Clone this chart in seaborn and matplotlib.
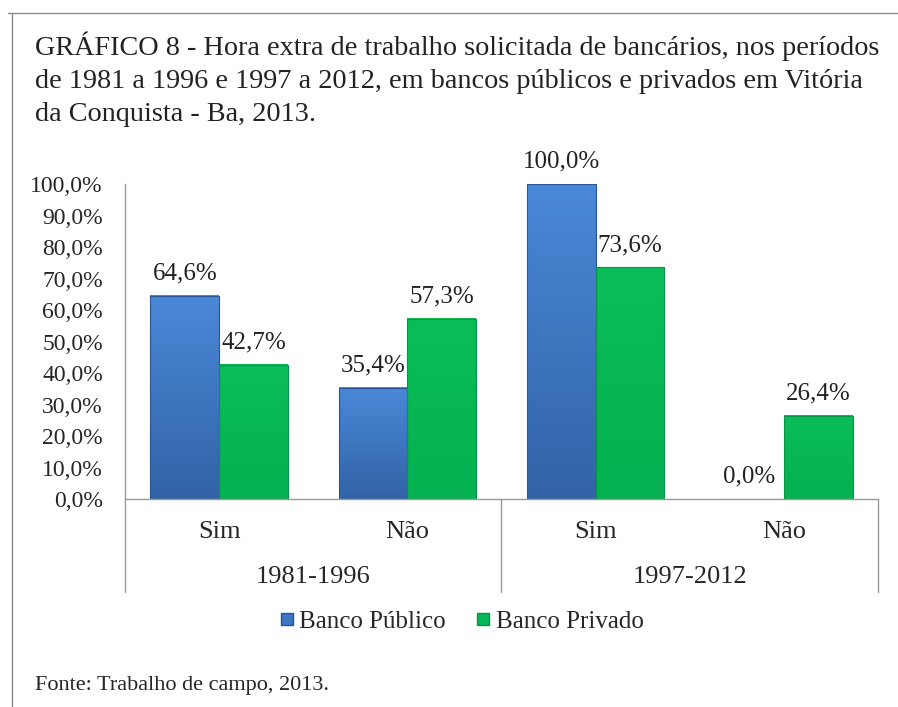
import numpy as np
import pandas as pd
import matplotlib.pyplot as plt
import seaborn as sns
from matplotlib.lines import Line2D
from matplotlib.colors import LinearSegmentedColormap

# data
periods = ['1981-1996', '1981-1996', '1997-2012', '1997-2012']
answers = ['Sim', 'Não', 'Sim', 'Não']
banco_publico = [64.6, 35.4, 100.0, 0.0]
banco_privado = [42.7, 57.3, 73.6, 26.4]
series_names = ['Banco Público', 'Banco Privado']
y_ticks = [0, 10, 20, 30, 40, 50, 60, 70, 80, 90, 100]

colors = ['#3d76c4', '#07b754']
edge_colors = ['#2a5592', '#05944a']
# top / bottom shades of each series (glossy Excel look)
shades = [('#4a88d8', '#3263a6'), ('#0bbd58', '#05b150')]

cats = [f'{p}|{a}' for p, a in zip(periods, answers)]
df = pd.DataFrame({
    'cat': cats * 2,
    'value': banco_publico + banco_privado,
    'serie': [series_names[0]] * 4 + [series_names[1]] * 4,
})

sns.set_style('white')
plt.rcParams['font.family'] = ['Liberation Serif', 'DejaVu Serif']

fig = plt.figure(figsize=(8.98, 7.07), dpi=100)
ax = fig.add_axes([0.1392, 0.2942, 0.8385, 0.4455])

sns.barplot(data=df, x='cat', y='value', hue='serie', order=cats,
            hue_order=series_names, palette=colors, width=0.73, gap=0,
            saturation=1, legend=False, ax=ax)

grad = np.linspace(1, 0, 100).reshape(-1, 1)
for cont, ec, (top, bottom) in zip(ax.containers, edge_colors, shades):
    cmap = LinearSegmentedColormap.from_list('shade', [bottom, top])
    for bar in cont:
        bar.set_edgecolor(ec)
        bar.set_linewidth(0.8)
        bar.set_zorder(3)
        if bar.get_height() > 0:
            x0, w, h = bar.get_x(), bar.get_width(), bar.get_height()
            ax.imshow(grad, cmap=cmap, extent=[x0, x0 + w, 0, h], aspect='auto',
                      zorder=2.5, clip_path=bar, vmin=0, vmax=1)
            bar.set_facecolor('none')
    ax.bar_label(cont, labels=[f'{v:.1f}%'.replace('.', ',') for v in cont.datavalues],
                 padding=8, fontsize=18, color='#222222', clip_on=False)

ax.set_ylim(0, 100)
ax.set_xlim(-0.5, 3.5)
ax.set_yticks(y_ticks)
ax.set_yticklabels([f'{t:.1f}%'.replace('.', ',') for t in y_ticks], fontsize=17)
ax.tick_params(axis='y', length=0, pad=16)
ax.set_xticks(range(4))
ax.set_xticklabels(answers, fontsize=19)
ax.tick_params(axis='x', length=0, pad=16)
ax.set_xlabel('')
ax.set_ylabel('')
for s in ['top', 'right']:
    ax.spines[s].set_visible(False)
for s in ['left', 'bottom']:
    ax.spines[s].set_color('#9a9a9a')
    ax.spines[s].set_linewidth(1)
    ax.spines[s].set_zorder(5)

# period group labels and separators below the axis
trans = ax.get_xaxis_transform()
for x in [-0.5, 1.5, 3.5]:
    ax.plot([x, x], [0, -0.295], color='#9a9a9a', lw=1, transform=trans, clip_on=False)
for i, p in enumerate(['1981-1996', '1997-2012']):
    ax.text(2 * i + 0.5, -0.248, p, transform=trans, ha='center', va='center', fontsize=19)

# legend
handles = [Line2D([], [], marker='s', ls='', markersize=8, markerfacecolor=c,
                  markeredgecolor=ec) for c, ec in zip(colors, edge_colors)]
fig.legend(handles, series_names, loc='center', bbox_to_anchor=(0.511, 0.121), ncol=2,
           frameon=False, fontsize=18, handletextpad=0.0, columnspacing=1.0,
           handlelength=1.0)

fig.text(0.039, 0.955,
         'GRÁFICO 8 - Hora extra de trabalho solicitada de bancários, nos períodos\n'
         'de 1981 a 1996 e 1997 a 2012, em bancos públicos e privados em Vitória\n'
         'da Conquista - Ba, 2013.',
         ha='left', va='top', fontsize=20.3, linespacing=1.42, color='#222222')
fig.text(0.039, 0.03, 'Fonte: Trabalho de campo, 2013.', ha='left', va='center', fontsize=16)

# frame lines of the original figure
fig.add_artist(Line2D([12 / 898, 12 / 898], [0, 1 - 13 / 707], color='#8a8a8a', lw=1))
fig.add_artist(Line2D([8 / 898, 1], [1 - 13 / 707, 1 - 13 / 707], color='#8a8a8a', lw=1))

fig.savefig('out.png', dpi=100)
